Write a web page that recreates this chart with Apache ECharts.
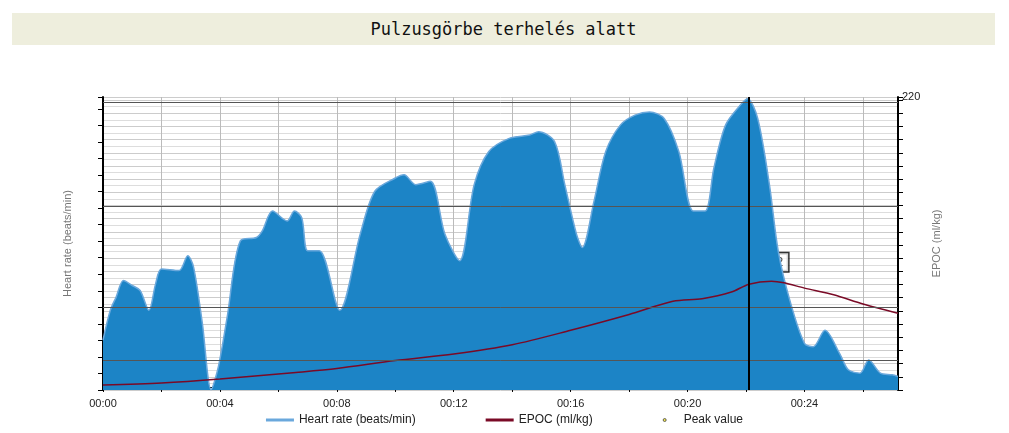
<!DOCTYPE html>
<html>
<head>
<meta charset="utf-8">
<script src="https://cdn.jsdelivr.net/npm/echarts@6/dist/echarts.min.js"></script>
<style>
  body { margin: 0; background: #fff; }
  #title { position: absolute; left: 12px; top: 13px; width: 983px; height: 32px; background: #eeeedd;
    font: 17px "DejaVu Sans Mono", monospace; text-align: center; line-height: 32px; color: #111; }
  #chart { position: absolute; left: 0; top: 0; width: 1009px; height: 433px; }
</style>
</head>
<body>
<div id="title">Pulzusgörbe terhelés alatt</div>
<div id="chart"></div>
<script>
// time in minutes, heart rate in beats/min
const hrTime = [0, 0.25, 0.45, 0.7, 1.0, 1.27, 1.57, 1.8, 2.0, 2.6, 2.9, 3.1, 3.4, 3.7, 3.95, 4.25, 4.7, 5.25, 5.45, 5.8, 6.3, 6.55, 6.8, 7.0, 7.4, 8.1, 8.8, 9.3, 10.0, 10.3, 10.7, 11.2, 11.7, 12.2, 12.7, 13.2, 13.9, 14.6, 14.9, 15.45, 15.8, 16.2, 16.4, 16.8, 17.2, 17.7, 18.2, 18.7, 19.2, 19.7, 20.2, 20.6, 20.9, 21.3, 21.8, 22.05, 22.4, 22.8, 23.1, 23.5, 24.0, 24.3, 24.7, 25.2, 25.5, 25.9, 26.2, 26.6, 27.0, 27.2];
const hrValues = [113, 122, 126, 131, 129.5, 128, 122, 130, 134.5, 134, 138.5, 135, 118, 98, 105, 120, 143, 144, 146, 152, 149, 152, 150, 140, 140, 122, 145, 158, 162, 163, 160, 161, 145, 137, 160, 170, 174, 175, 176, 173, 160, 145, 141, 155, 170, 178, 181, 182, 180, 170, 152, 152, 165, 178, 184, 186, 180, 160, 140, 125, 112, 111, 116, 109, 104, 103, 107, 103, 102.5, 102];
// EPOC in ml/kg
const epocTime = [0, 2, 4, 6.6, 8, 10, 12, 14, 16, 18, 19.5, 20.5, 21.5, 22.1, 22.87, 23.3, 24, 25, 26, 27.2];
const epocValues = [1.5, 3, 6, 11, 14, 20, 25, 32, 43, 55, 65, 67, 72, 78, 80.2, 79, 75, 70, 63, 56];
const peak = [22.87, 80.2];
const peakLine = 22.1;
const zoneLines = [153.5, 123, 107, 185];

const fmt = v => '00:' + String(Math.round(v)).padStart(2, '0');
const chart = echarts.init(document.getElementById('chart'));
chart.setOption({
  animation: false,
  grid: { left: 103, right: 111, top: 97, bottom: 43 },
  legend: {
    bottom: 2, itemGap: 70, textStyle: { fontFamily: 'Liberation Sans', fontSize: 12, color: '#222' },
    data: [
      { name: 'Heart rate (beats/min)', icon: 'rect', itemStyle: { color: '#6aa8dc' } },
      { name: 'EPOC (ml/kg)', icon: 'rect', itemStyle: { color: '#7a0a26' } },
      { name: 'Peak value', icon: 'circle', itemStyle: { color: '#f0e020', borderColor: '#444', borderWidth: 1 } }
    ],
    itemWidth: 28, itemHeight: 3
  },
  xAxis: {
    type: 'value', min: 0, max: 27.2, interval: 2,
    axisLine: { show: true, lineStyle: { color: '#000' } },
    axisTick: { show: true, lineStyle: { color: '#000' } },
    axisLabel: { formatter: v => (v % 4 === 0 ? fmt(v) : ''), color: '#222', fontFamily: 'Liberation Sans', fontSize: 11, showMaxLabel: false },
    splitLine: { show: true, lineStyle: { color: '#bbb' } }
  },
  yAxis: [
    {
      type: 'value', min: 97.9, max: 186.5, interval: 5,
      name: 'Heart rate (beats/min)', nameLocation: 'middle', nameGap: 30,
      nameTextStyle: { color: '#777', fontFamily: 'Liberation Sans', fontSize: 11 },
      axisLine: { show: true, lineStyle: { color: '#000', width: 2 } },
      axisTick: { show: true, lineStyle: { color: '#000' } },
      axisLabel: { formatter: v => (v % 5 === 0 ? v : ''), color: '#222', fontFamily: 'Liberation Sans', fontSize: 11, margin: 4 },
      splitLine: { show: false }
    },
    {
      type: 'value', min: -2.3, max: 220, interval: 10,
      name: 'EPOC (ml/kg)', nameLocation: 'middle', nameGap: 32,
      nameTextStyle: { color: '#777', fontFamily: 'Liberation Sans', fontSize: 11 },
      axisLine: { show: true, lineStyle: { color: '#000', width: 2 } },
      axisTick: { show: true, lineStyle: { color: '#000' } },
      axisLabel: { formatter: v => (v % 10 === 0 && v >= 0 ? v : ''), color: '#222', fontFamily: 'Liberation Sans', fontSize: 11, margin: 4 },
      splitLine: { show: true, lineStyle: { color: '#ccc' } },
      minorTick: { show: false, splitNumber: 2 },
      minorSplitLine: { show: true, lineStyle: { color: '#ddd' } }
    }
  ],
  series: [
    {
      name: 'Heart rate (beats/min)', type: 'line', yAxisIndex: 0, symbol: 'none', smooth: 0.3,
      data: hrTime.map((t, i) => [t, hrValues[i]]),
      lineStyle: { color: '#6aa8dc', width: 1.5 },
      itemStyle: { color: '#6aa8dc' },
      areaStyle: { color: '#1c84c6', opacity: 1 },
      markLine: {
        silent: true, symbol: 'none', label: { show: false },
        data: zoneLines.map(v => ({ yAxis: v, lineStyle: { color: '#555', type: 'solid', width: 1 } }))
          .concat([{ xAxis: peakLine, lineStyle: { color: '#000', type: 'solid', width: 2 } }])
      }
    },
    {
      name: 'EPOC (ml/kg)', type: 'line', yAxisIndex: 1, symbol: 'none', smooth: 0.3,
      data: epocTime.map((t, i) => [t, epocValues[i]]),
      lineStyle: { color: '#7a0a26', width: 1.5 },
      itemStyle: { color: '#7a0a26' }
    },
    {
      name: 'Peak value', type: 'scatter', yAxisIndex: 1, symbolSize: 7,
      data: [peak],
      itemStyle: { color: '#f0e020', borderColor: '#444', borderWidth: 1 },
      label: {
        show: true, position: 'top', distance: 6, formatter: p => String(p.value[1]).replace('.', ','),
        backgroundColor: '#fff', borderColor: '#000', borderWidth: 1.5, padding: [3, 5],
        color: '#111', fontFamily: 'Liberation Sans', fontSize: 12
      }
    }
  ]
});
</script>
</body>
</html>
